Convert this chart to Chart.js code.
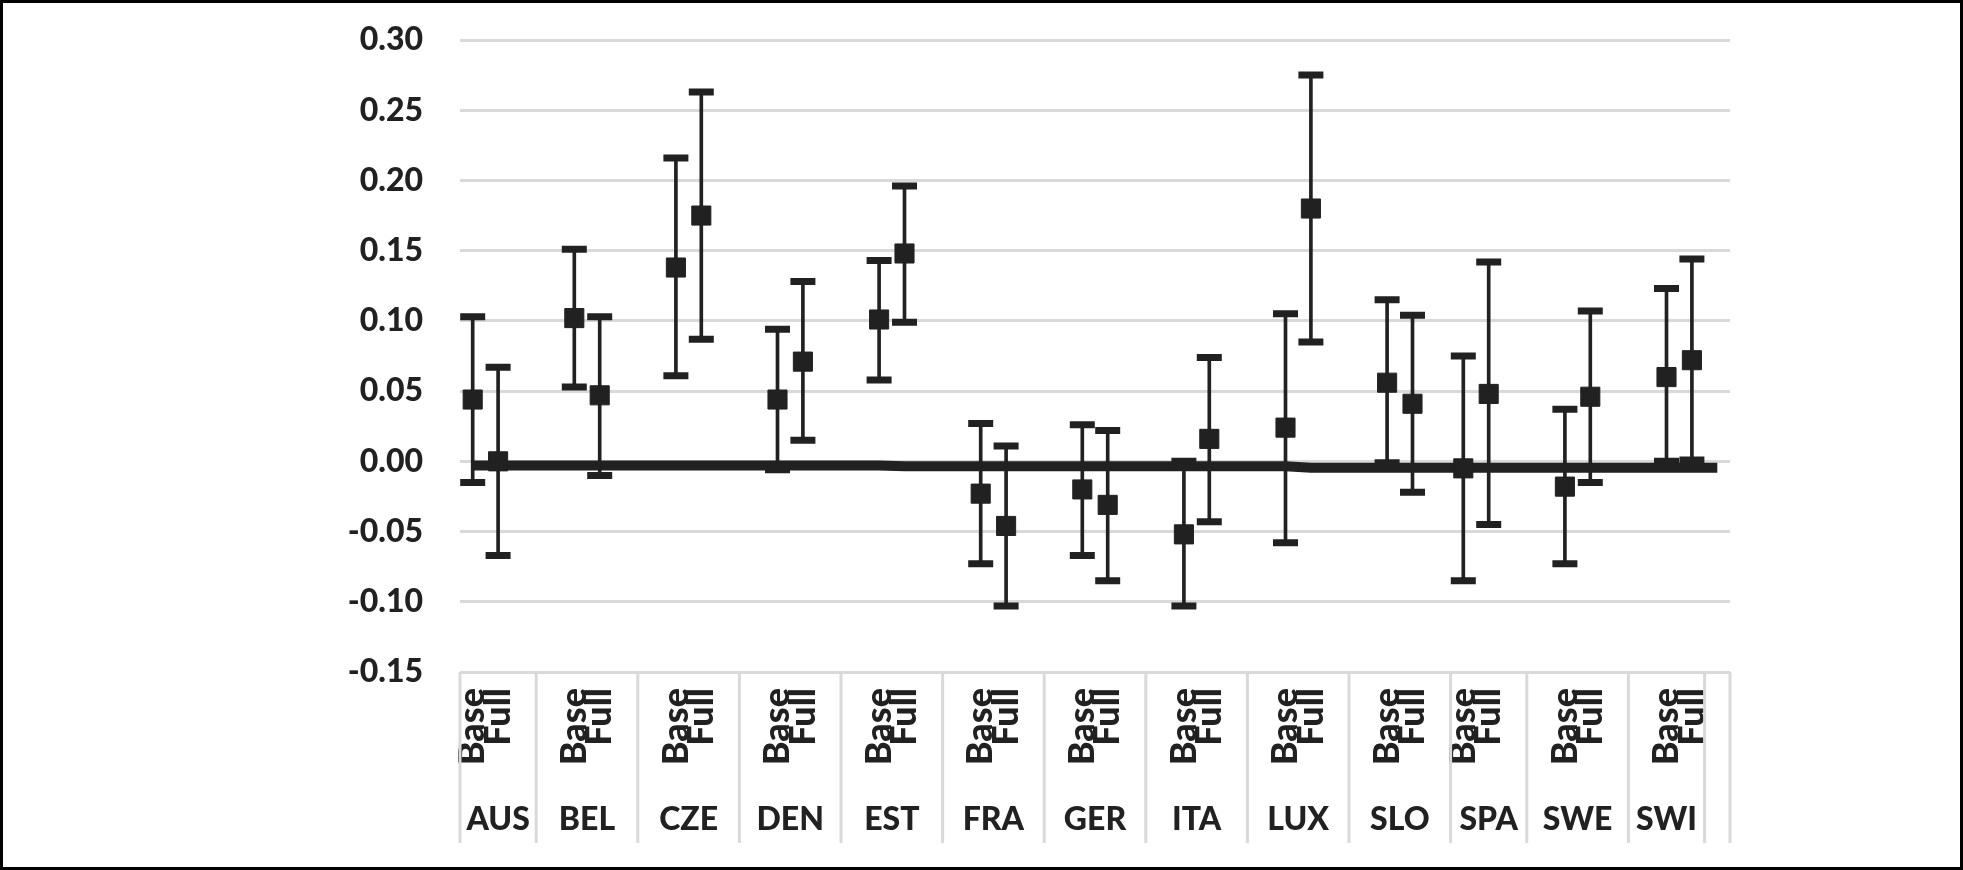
<!DOCTYPE html>
<html>
<head>
<meta charset="utf-8">
<script src="https://cdn.jsdelivr.net/npm/chart.js@4/dist/chart.umd.min.js"></script>
<style>
  html, body { margin: 0; padding: 0; background: #fff; }
  #frame {
    width: 1963px; height: 870px; box-sizing: border-box;
    border: 3px solid #000; background: #fff;
  }
  canvas { display: block; }
</style>
</head>
<body>
<div id="frame"><canvas id="chart" width="1957" height="864"></canvas></div>
<script>
const inkColor  = '#212121';
const gridColor = '#d9d9d9';
const fontName  = 'Lato';
const fontWeight = '900';

const countries = ['AUS', 'BEL', 'CZE', 'DEN', 'EST', 'FRA', 'GER', 'ITA', 'LUX', 'SLO', 'SPA', 'SWE', 'SWI', ''];

// rows of the category column in the sheet, grouped by country (blank rows included)
const groupRows = [
    ['Base', 'Full', ''],
    ['', 'Base', 'Full', ''],
    ['', 'Base', 'Full', ''],
    ['', 'Base', 'Full', ''],
    ['', 'Base', 'Full', ''],
    ['', 'Base', 'Full', ''],
    ['', 'Base', 'Full', ''],
    ['', 'Base', 'Full', ''],
    ['', 'Base', 'Full', ''],
    ['', 'Base', 'Full', ''],
    ['Base', 'Full', ''],
    ['', 'Base', 'Full', ''],
    ['', 'Base', 'Full'],
    ['']
];

// estimates and confidence bounds per country
const baseEst  = [0.044, 0.102, 0.138, 0.044, 0.101, -0.023, -0.020, -0.052, 0.024, 0.056, -0.005, -0.018, 0.060];
const baseLow  = [-0.015, 0.053, 0.061, -0.006, 0.058, -0.073, -0.067, -0.103, -0.058, -0.001, -0.085, -0.073, 0.000];
const baseHigh = [0.103, 0.151, 0.216, 0.094, 0.143, 0.027, 0.026, 0.000, 0.105, 0.115, 0.075, 0.037, 0.123];

const fullEst  = [0.000, 0.047, 0.175, 0.071, 0.148, -0.046, -0.031, 0.016, 0.180, 0.041, 0.048, 0.046, 0.072];
const fullLow  = [-0.067, -0.010, 0.087, 0.015, 0.099, -0.103, -0.085, -0.043, 0.085, -0.022, -0.045, -0.015, 0.001];
const fullHigh = [0.067, 0.103, 0.263, 0.128, 0.196, 0.011, 0.022, 0.074, 0.275, 0.104, 0.142, 0.107, 0.144];

// thick reference line near zero, one value per row
const zeroLine = [
    -0.003, -0.003, -0.003, -0.003, -0.003, -0.003, -0.003, -0.003, -0.003, -0.003,
    -0.003, -0.003, -0.003, -0.003, -0.003, -0.003, -0.003, -0.0035, -0.0035, -0.0035,
    -0.0035, -0.0035, -0.0035, -0.0035, -0.0035, -0.0035, -0.0035, -0.0035, -0.0035, -0.0035,
    -0.0035, -0.0035, -0.0035, -0.0045, -0.0045, -0.0045, -0.0045, -0.0045, -0.0045, -0.0045,
    -0.0045, -0.0045, -0.0045, -0.0045, -0.0045, -0.0045, -0.0045, -0.0045, -0.0045, -0.0045
];

const yMin = -0.15, yMax = 0.30, yStep = 0.05;

// flatten groups into rows and place the Base / Full values on their rows
const rowLabels = [];
const groupStart = [];
const est = [], low = [], high = [], whisker = [];
groupRows.forEach((rows, g) => {
    groupStart.push(rowLabels.length);
    rows.forEach(r => {
        rowLabels.push(r);
        let e = null, lo = null, hi = null;
        if (r === 'Base') { e = baseEst[g]; lo = baseLow[g]; hi = baseHigh[g]; }
        if (r === 'Full') { e = fullEst[g]; lo = fullLow[g]; hi = fullHigh[g]; }
        est.push(e); low.push(lo); high.push(hi);
        whisker.push(lo === null ? null : [lo, hi]);
    });
});

// country names under the Base/Full rows, with the separator lines
const countryAxis = {
    id: 'countryAxis',
    afterDraw(chart) {
        const x = chart.scales.x;
        const ctx = chart.ctx;
        const w = x.getPixelForValue(1) - x.getPixelForValue(0);
        const top = chart.chartArea.bottom;
        const bottom = 840;
        ctx.save();
        ctx.strokeStyle = gridColor;
        ctx.lineWidth = 3;
        ctx.fillStyle = inkColor;
        ctx.font = `${fontWeight} 32px ${fontName}`;
        ctx.textAlign = 'center';
        ctx.textBaseline = 'alphabetic';
        groupRows.forEach((rows, g) => {
            const left = x.getPixelForValue(groupStart[g]) - w / 2;
            const right = left + rows.length * w;
            ctx.beginPath();
            ctx.moveTo(left, top);
            ctx.lineTo(left, bottom);
            if (g === groupRows.length - 1) {
                ctx.moveTo(right, top);
                ctx.lineTo(right, bottom);
            }
            ctx.stroke();
            if (countries[g]) ctx.fillText(countries[g], (left + right) / 2, 827);
        });
        ctx.restore();
    }
};

new Chart(document.getElementById('chart').getContext('2d'), {
    type: 'bar',
    data: {
        labels: rowLabels,
        datasets: [
            {
                type: 'line',
                data: zeroLine,
                borderColor: inkColor,
                borderWidth: 10,
                pointRadius: 0,
                fill: false,
                order: 4
            },
            {
                type: 'bar',
                data: whisker,
                backgroundColor: inkColor,
                borderWidth: 0,
                barThickness: 3,
                order: 3
            },
            {
                type: 'line',
                data: high,
                showLine: false,
                pointStyle: 'line',
                pointRadius: 12.5,
                pointBorderWidth: 7,
                pointBorderColor: inkColor,
                order: 2
            },
            {
                type: 'line',
                data: low,
                showLine: false,
                pointStyle: 'line',
                pointRadius: 12.5,
                pointBorderWidth: 7,
                pointBorderColor: inkColor,
                order: 2
            },
            {
                type: 'line',
                data: est,
                showLine: false,
                pointStyle: 'rect',
                pointRadius: 13.5,
                pointBorderWidth: 1,
                pointBackgroundColor: inkColor,
                pointBorderColor: inkColor,
                order: 1
            }
        ]
    },
    options: {
        responsive: false,
        animation: false,
        events: [],
        layout: { padding: { top: 37, right: 230, left: 0, bottom: 0 } },
        plugins: {
            legend: { display: false },
            tooltip: { enabled: false }
        },
        scales: {
            x: {
                type: 'category',
                offset: true,
                grid: { display: false, drawTicks: false },
                border: { display: false },
                ticks: {
                    autoSkip: false,
                    minRotation: 90,
                    maxRotation: 90,
                    padding: 16,
                    color: inkColor,
                    font: { family: fontName, size: 36, weight: fontWeight }
                },
                afterFit: s => { s.height = 195; }
            },
            y: {
                min: yMin,
                max: yMax,
                grid: { color: gridColor, lineWidth: 3, drawTicks: false },
                border: { display: false },
                ticks: {
                    stepSize: yStep,
                    padding: 37,
                    color: inkColor,
                    font: { family: fontName, size: 32, weight: fontWeight },
                    callback: v => (Math.abs(v) < 1e-9 ? 0 : v).toFixed(2)
                },
                afterFit: s => {
                    s.width = 457;
                    s.paddingTop = 0;
                    s.paddingBottom = 0;
                }
            }
        }
    },
    plugins: [countryAxis]
});
</script>
</body>
</html>
